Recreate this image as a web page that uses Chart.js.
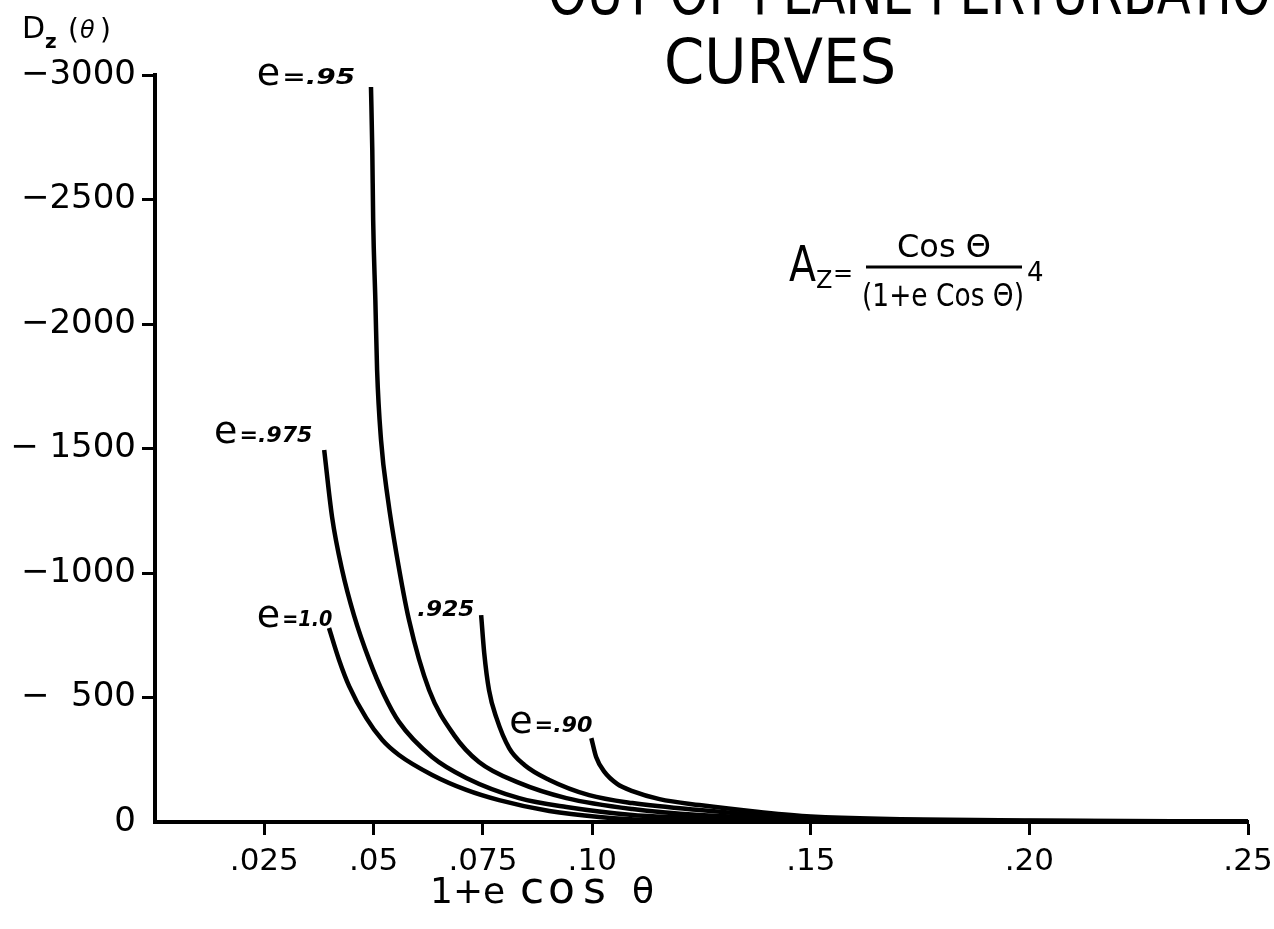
<!DOCTYPE html>
<html>
<head>
<meta charset="utf-8">
<title>Out of plane perturbation curves</title>
<script src="https://cdn.jsdelivr.net/npm/chart.js@4.4.1/dist/chart.umd.min.js"></script>
<style>
  html, body { margin: 0; padding: 0; background: #fff; }
  canvas { display: block; }
</style>
</head>
<body>
<canvas id="chart" width="1274" height="929"></canvas>
<script>
// values: x = 1+e cos θ, y = |D_z(θ)| (axis is labelled negative)
const e100X = [0.0398, 0.0421, 0.0444, 0.0483, 0.0520, 0.0558, 0.0634, 0.0712, 0.0787, 0.0902, 0.1016, 0.1131, 0.15, 0.20, 0.25];
const e100Y = [779, 651, 546, 418, 329, 269, 189, 129, 88, 44, 20, 8, 5, 2, 1];

const e975X = [0.0387, 0.0405, 0.0428, 0.0455, 0.0490, 0.0524, 0.0558, 0.0634, 0.0712, 0.0833, 0.0941, 0.1092, 0.125, 0.15, 0.20, 0.25];
const e975Y = [1494, 1225, 1012, 831, 651, 510, 402, 261, 177, 96, 60, 28, 16, 8, 3, 1];

const e95X = [0.0494, 0.0497, 0.0499, 0.0504, 0.0508, 0.0517, 0.0533, 0.0552, 0.0581, 0.0627, 0.0684, 0.0741, 0.0833, 0.0941, 0.1092, 0.1245, 0.15, 0.20, 0.25];
const e95Y = [2952, 2699, 2418, 2096, 1815, 1534, 1293, 1080, 811, 530, 349, 241, 157, 96, 52, 28, 12, 3, 1];

const e925X = [0.0746, 0.0753, 0.0764, 0.0781, 0.0810, 0.0845, 0.0902, 0.0993, 0.1092, 0.1245, 0.15, 0.20, 0.25];
const e925Y = [831, 679, 530, 418, 297, 229, 169, 108, 76, 48, 16, 4, 1];

const e90X = [0.0998, 0.1009, 0.1028, 0.1057, 0.1092, 0.1154, 0.1245, 0.1382, 0.15, 0.20, 0.25];
const e90Y = [337, 261, 201, 153, 124, 92, 68, 40, 22, 6, 2];

const xTickValues = [0.025, 0.05, 0.075, 0.10, 0.15, 0.20, 0.25];
const xTickLabels = [".025", ".05", ".075", ".10", ".15", ".20", ".25"];
const yTickValues = [0, 500, 1000, 1500, 2000, 2500, 3000];
const yTickLabels = ["0", "\u2212  500", "\u22121000", "\u2212 1500", "\u22122000", "\u22122500", "\u22123000"];

// curve labels: [big "e", rest, x, y] in data units (left edge, baseline)
const curveLabels = [
  ["e", "=.95", 0.0233, 2960],
  ["e", "=.975", 0.0135, 1522],
  ["e", "=1.0", 0.0233, 783],
  ["", ".925", 0.0600, 823],
  ["e", "=.90", 0.0810, 357]
];
// drawn width of the small italic part of each label, px
const curveLabelWidths = [73, 73, 50, 57, 58];

const FONT = "'DejaVu Sans', sans-serif";

function pts(xs, ys) {
  return xs.map((x, i) => ({ x: x, y: ys[i] }));
}

function curve(xs, ys) {
  return {
    data: pts(xs, ys),
    showLine: true,
    borderColor: "#000",
    borderWidth: 4.5,
    pointRadius: 0,
    cubicInterpolationMode: "monotone",
    fill: false
  };
}

// squeezed / stretched text, like the hand lettering
function drawFit(ctx, text, x, y, width) {
  const w = ctx.measureText(text).width;
  ctx.save();
  ctx.translate(x, y);
  ctx.scale(width / w, 1);
  ctx.fillText(text, 0, 0);
  ctx.restore();
}

const textPlugin = {
  id: "texts",
  afterDraw(chart) {
    const ctx = chart.ctx;
    const xs = chart.scales.x;
    const ys = chart.scales.y;
    ctx.save();
    ctx.fillStyle = "#000";
    ctx.textBaseline = "alphabetic";
    ctx.textAlign = "left";

    // title (top line runs off the page)
    ctx.font = "62px " + FONT;
    drawFit(ctx, "OUT OF PLANE PERTURBATION", 548, 14, 760);
    drawFit(ctx, "CURVES", 664, 83, 232);

    // y axis title D_z(θ)
    ctx.font = "30px " + FONT;
    ctx.fillText("D", 22, 38);
    ctx.font = "bold 20px " + FONT;
    ctx.fillText("z", 45, 48);
    ctx.font = "28px " + FONT;
    ctx.fillText("(", 68, 39);
    ctx.font = "italic 24px " + FONT;
    ctx.fillText("\u03b8", 80, 38);
    ctx.font = "28px " + FONT;
    ctx.fillText(")", 100, 39);

    // x axis title
    ctx.font = "36px " + FONT;
    ctx.fillText("1+e", 430, 903);
    ctx.font = "44px " + FONT;
    ctx.fillText("c", 520, 903);
    ctx.fillText("o", 548, 903);
    ctx.fillText("s", 583, 903);
    ctx.font = "36px " + FONT;
    ctx.fillText("\u03b8", 632, 903);

    // curve labels
    curveLabels.forEach(([big, rest, vx, vy], i) => {
      let px = xs.getPixelForValue(vx);
      const py = ys.getPixelForValue(vy);
      if (big) {
        ctx.font = "38px " + FONT;
        ctx.fillText(big, px, py);
        px += ctx.measureText(big).width + 2;
      }
      ctx.font = "italic bold 21px " + FONT;
      drawFit(ctx, rest, px, py - 1, curveLabelWidths[i]);
    });

    // formula A_z = Cos θ / (1+e Cos θ)^4
    ctx.font = "50px " + FONT;
    drawFit(ctx, "A", 789, 281, 27);
    ctx.font = "24px " + FONT;
    ctx.fillText("Z", 816, 288);
    ctx.fillText("=", 833, 281);
    ctx.lineWidth = 3;
    ctx.beginPath();
    ctx.moveTo(866, 267);
    ctx.lineTo(1022, 267);
    ctx.stroke();
    ctx.font = "32px " + FONT;
    ctx.textAlign = "center";
    ctx.fillText("Cos \u0398", 944, 257);
    ctx.textAlign = "left";
    drawFit(ctx, "(1+e Cos \u0398)", 862, 306, 162);
    ctx.font = "26px " + FONT;
    ctx.fillText("4", 1027, 281);

    ctx.restore();
  }
};

new Chart(document.getElementById("chart").getContext("2d"), {
  type: "scatter",
  data: {
    datasets: [
      curve(e100X, e100Y),
      curve(e975X, e975Y),
      curve(e95X, e95Y),
      curve(e925X, e925Y),
      curve(e90X, e90Y)
    ]
  },
  options: {
    responsive: false,
    animation: false,
    layout: { padding: { top: 75, right: 26, left: 0, bottom: 0 } },
    plugins: { legend: { display: false }, tooltip: { enabled: false } },
    scales: {
      x: {
        type: "linear",
        min: 0,
        max: 0.25,
        afterBuildTicks: (s) => { s.ticks = xTickValues.map(v => ({ value: v })); },
        afterFit: (s) => { s.height = 107; s.paddingLeft = 0; s.paddingRight = 0; },
        ticks: {
          autoSkip: false,
          maxRotation: 0,
          padding: 8,
          color: "#000",
          font: { family: FONT, size: 31 },
          callback: (v, i) => xTickLabels[i]
        },
        grid: { drawOnChartArea: false, tickLength: 13, tickWidth: 3, tickColor: "#000" },
        border: { color: "#000", width: 4 }
      },
      y: {
        type: "linear",
        min: 0,
        max: 3000,
        afterBuildTicks: (s) => { s.ticks = yTickValues.map(v => ({ value: v })); },
        afterFit: (s) => { s.width = 155; s.paddingTop = 0; s.paddingBottom = 0; },
        ticks: {
          autoSkip: false,
          padding: 6,
          color: "#000",
          font: { family: FONT, size: 34 },
          callback: (v, i) => yTickLabels[i]
        },
        grid: {
          drawOnChartArea: false,
          tickLength: 13,
          tickWidth: 3,
          tickColor: (c) => (c.tick && c.tick.value === 0 ? "rgba(0,0,0,0)" : "#000")
        },
        border: { color: "#000", width: 4 }
      }
    }
  },
  plugins: [textPlugin]
});
</script>
</body>
</html>
